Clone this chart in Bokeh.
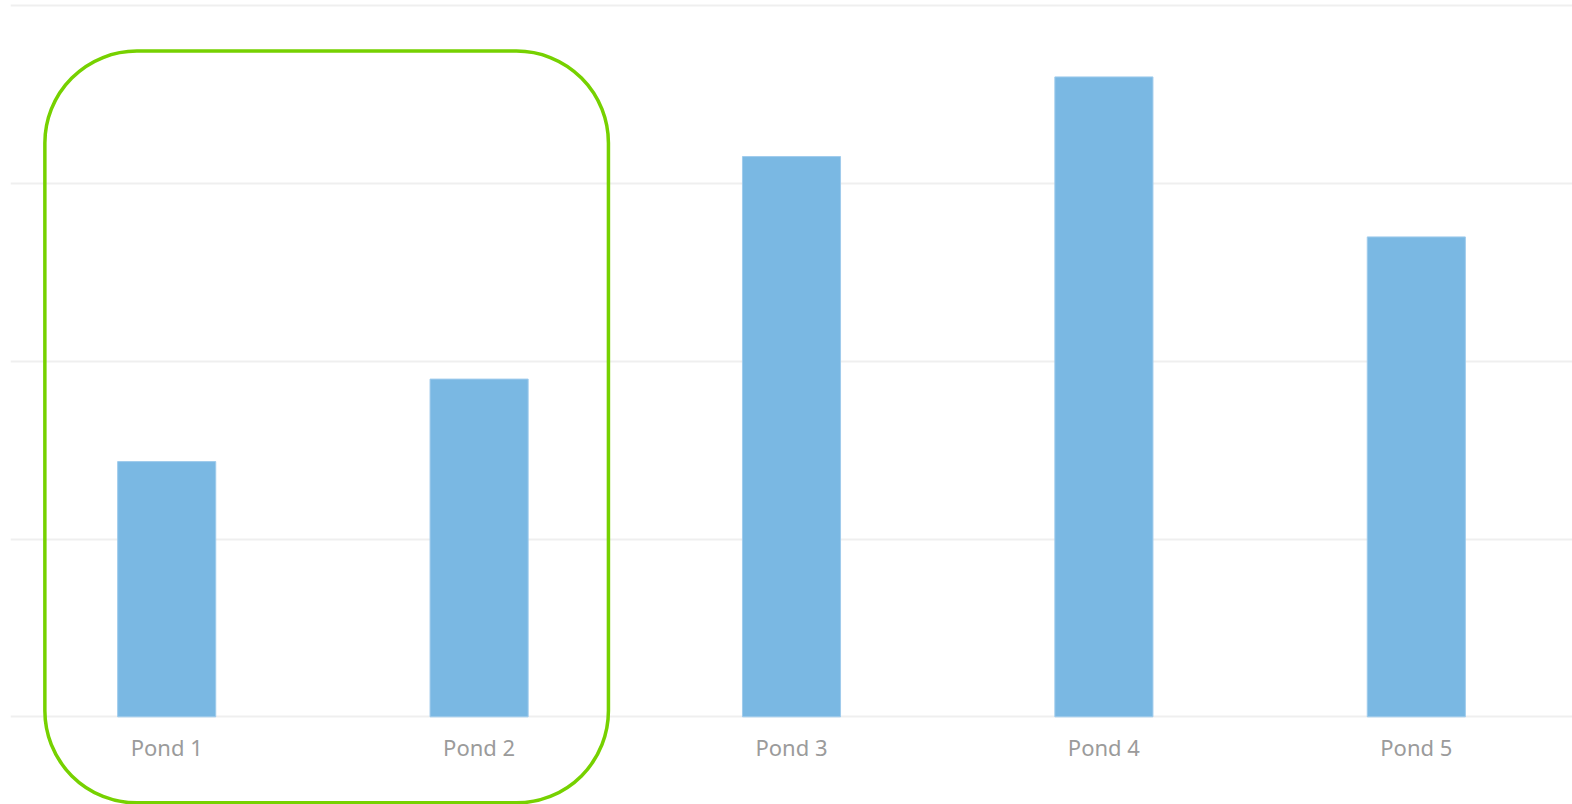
from bokeh.plotting import figure
from bokeh.models import FactorRange, Range1d, Grid, FixedTicker, BoxAnnotation, ColumnDataSource
from bokeh.core.properties import value
from bokeh.embed import file_html
from bokeh.resources import INLINE

# Pond readings
ponds = ["Pond 1", "Pond 2", "Pond 3", "Pond 4", "Pond 5"]
readings = [35.9, 47.5, 78.8, 90.0, 67.5]
grid_ticks = [0, 25, 50, 75, 100]
highlighted = ["Pond 1", "Pond 2"]

BAR_COLOR = "#7ab8e3"
LABEL_COLOR = "#9b9b9b"
GRID_COLOR = "#efefef"
HIGHLIGHT_COLOR = "#76d100"

p = figure(
    width=1572, height=804,
    x_range=FactorRange(factors=ponds, range_padding=0),
    y_range=Range1d(-12.33, 100.75),
    x_axis_location=None, y_axis_location=None,
    toolbar_location=None, output_backend="svg",
    min_border_left=10, min_border_right=0, min_border_top=0, min_border_bottom=0,
)
p.outline_line_color = None
p.background_fill_color = "white"
p.border_fill_color = "white"

# horizontal grid lines only
p.center = [r for r in p.center if not isinstance(r, Grid)]
p.add_layout(Grid(dimension=1, ticker=FixedTicker(ticks=grid_ticks),
                  grid_line_color=GRID_COLOR, grid_line_width=2))

src = ColumnDataSource(dict(pond=ponds, reading=readings))
p.vbar(x="pond", top="reading", bottom=0, width=0.314, source=src,
       fill_color=BAR_COLOR, line_color="#9fcbec", line_width=1)

# category labels under the baseline
p.text(x=ponds, y=[-4.3] * len(ponds), text=ponds,
       text_align="center", text_baseline="alphabetic",
       text_font=value("Noto Sans"), text_font_size="22px", text_color=LABEL_COLOR)

# rounded frame around the highlighted ponds
first = ponds.index(highlighted[0])
last = ponds.index(highlighted[-1])
p.add_layout(BoxAnnotation(
    left=first + 0.11, right=last + 1 - 0.086, top=93.64, bottom=-12.1,
    border_radius=92, fill_color=None, fill_alpha=0,
    line_color=HIGHLIGHT_COLOR, line_alpha=1, line_width=3.5,
))

open("out.html", "w").write(file_html(p, INLINE))
